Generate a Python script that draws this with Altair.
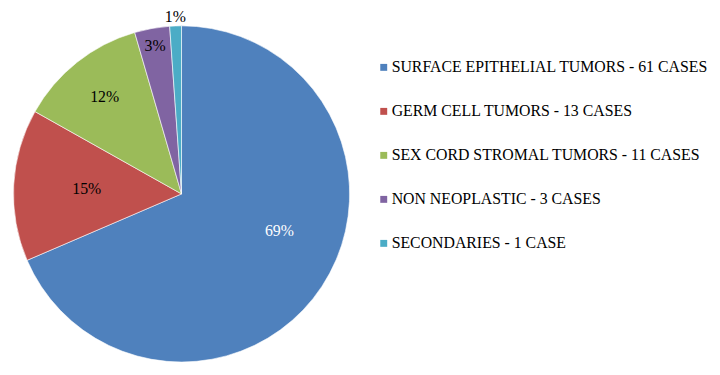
import altair as alt
import pandas as pd

categories = [
    "SURFACE EPITHELIAL TUMORS - 61 CASES",
    "GERM CELL TUMORS - 13 CASES",
    "SEX CORD STROMAL TUMORS - 11 CASES",
    "NON NEOPLASTIC - 3 CASES",
    "SECONDARIES - 1 CASE",
]
cases = [61, 13, 11, 3, 1]
colors = ["#4F81BD", "#C0504D", "#9BBB59", "#8064A2", "#4BACC6"]

df = pd.DataFrame({"cat": categories, "value": cases, "order": list(range(len(cases)))})

FONT = "Liberation Serif"
CX, CY, R = 175.5, 186, 170

pie = alt.Chart(df).mark_arc(stroke="white", strokeWidth=0.6).encode(
    theta=alt.Theta("value:Q", stack=True),
    order=alt.Order("order:Q"),
    color=alt.Color(
        "cat:N",
        scale=alt.Scale(domain=categories, range=colors),
        sort=categories,
        legend=alt.Legend(
            title=None,
            orient="none",
            legendX=372,
            legendY=50,
            symbolType="square",
            symbolSize=49,
            symbolStrokeWidth=0,
            labelFont=FONT,
            labelFontSize=16,
            labelColor="#000000",
            labelLimit=400,
            rowPadding=28.5,
            labelOffset=0,
        ),
    ),
    x=alt.value(CX),
    y=alt.value(CY),
    radius=alt.value(R),
)

labels_base = alt.Chart(df).transform_joinaggregate(
    total="sum(value)"
).transform_window(
    cum="sum(value)", sort=[alt.SortField("order")], frame=[None, 0]
).transform_calculate(
    share="datum.value / datum.total",
    pct="format(datum.value / datum.total, '.0%')",
    ang="(datum.cum - datum.value / 2) / datum.total * 2 * PI",
    labelR="datum.share < 0.02 ? 179 : datum.share < 0.05 ? 152 : datum.share < 0.13 ? 125 : datum.share < 0.2 ? 96 : 106",
)

big_label = labels_base.transform_filter("datum.share > 0.5").mark_text(
    font=FONT, fontSize=16, color="white", thetaOffset=-0.218
).encode(
    theta=alt.Theta("ang:Q", scale=None),
    radius=alt.Radius("labelR:Q", scale=None),
    text=alt.Text("pct:N"),
    x=alt.value(CX),
    y=alt.value(CY),
)

small_labels = labels_base.transform_filter("datum.share <= 0.5").mark_text(
    font=FONT, fontSize=16, color="black"
).encode(
    theta=alt.Theta("ang:Q", scale=None),
    radius=alt.Radius("labelR:Q", scale=None),
    text=alt.Text("pct:N"),
    x=alt.value(CX),
    y=alt.value(CY),
)

chart = alt.layer(pie, big_label, small_labels).properties(
    width=712,
    height=359,
    autosize=alt.AutoSizeParams(type="none"),
    padding=0,
).configure(
    background="white"
).configure_view(stroke=None)

chart.save("out.html", embed_options={"renderer": "svg", "actions": False})
